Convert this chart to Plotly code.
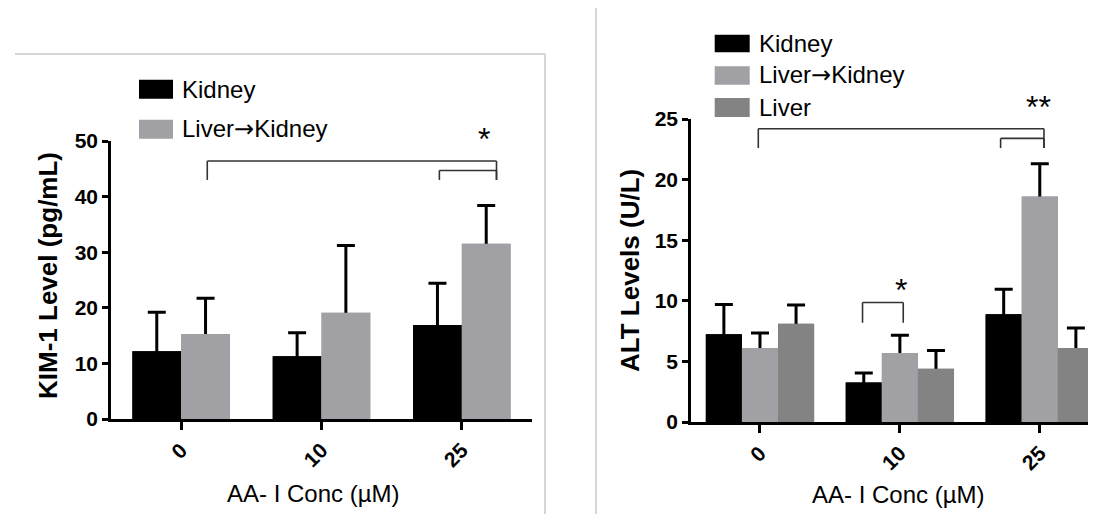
import plotly.graph_objects as go

W, H = 1096, 514
FONT = "Liberation Sans, Arial, Helvetica, sans-serif"

# ---------------- data ----------------
conc = ["0", "10", "25"]

kim_kidney = [12.2, 11.3, 16.9]
kim_kidney_sd = [7.0, 4.2, 7.5]
kim_liver_kidney = [15.3, 19.1, 31.5]
kim_liver_kidney_sd = [6.4, 12.1, 6.9]

alt_kidney = [7.25, 3.25, 8.9]
alt_kidney_sd = [2.45, 0.8, 2.05]
alt_liver_kidney = [6.1, 5.7, 18.6]
alt_liver_kidney_sd = [1.25, 1.45, 2.7]
alt_liver = [8.1, 4.4, 6.1]
alt_liver_sd = [1.55, 1.5, 1.65]

ARROW = '<span style="font-family:DejaVu Sans">\u2192</span>'
names = ["Kidney", "Liver" + ARROW + "Kidney", "Liver"]
colors = ["#000000", "#a0a0a5", "#838383"]

# significance brackets: (x0, x1, y_top, y_leg) in data units, axis suffix
brackets = [
    (0.186, 2.247, 46.4, 43.0, ""),
    (1.84, 2.247, 44.7, 43.0, ""),
    (-0.012, 2.03, 24.2, 22.6, "2"),
    (1.72, 2.03, 23.4, 22.6, "2"),
    (0.733, 1.024, 9.86, 8.19, "2"),
]


def px(x):
    return x / W


def py(y):
    return 1 - y / H


fig = go.Figure()


def add_series(vals, sds, color, xa, ya, offset, width):
    # bar with upward error bar; stem hidden by an identical bar drawn on top
    fig.add_trace(go.Bar(
        x=conc, y=vals, xaxis=xa, yaxis=ya, offset=offset, width=width,
        marker=dict(color=color, line=dict(width=0)), showlegend=False,
        error_y=dict(type="data", symmetric=False, array=sds, arrayminus=vals,
                     color="#000000", thickness=3, width=9),
    ))
    fig.add_trace(go.Bar(
        x=conc, y=vals, xaxis=xa, yaxis=ya, offset=offset, width=width,
        marker=dict(color=color, line=dict(width=0)), showlegend=False,
    ))


bw1 = 0.3475
add_series(kim_kidney, kim_kidney_sd, colors[0], "x", "y", -bw1, bw1)
add_series(kim_liver_kidney, kim_liver_kidney_sd, colors[1], "x", "y", 0.0, bw1)

bw2 = 0.258
add_series(alt_kidney, alt_kidney_sd, colors[0], "x2", "y2", -1.5 * bw2, bw2)
add_series(alt_liver_kidney, alt_liver_kidney_sd, colors[1], "x2", "y2", -0.5 * bw2, bw2)
add_series(alt_liver, alt_liver_sd, colors[2], "x2", "y2", 0.5 * bw2, bw2)

tickfont = dict(family=FONT, size=21, color="#000000", weight="bold")
axis_common = dict(showline=True, linecolor="#000000", linewidth=2.5,
                   ticks="outside", tickwidth=2.5, tickcolor="#000000",
                   showgrid=False, zeroline=False, automargin=False,
                   tickfont=tickfont, fixedrange=True)

fig.update_layout(
    template="none",
    width=W, height=H, autosize=False,
    margin=dict(l=0, r=0, t=0, b=0),
    paper_bgcolor="#ffffff", plot_bgcolor="rgba(0,0,0,0)",
    barmode="overlay",
    showlegend=False,
    xaxis=dict(domain=[px(103), px(524)], anchor="y", type="category",
               range=[-0.5, 2.5], tickangle=-45, ticklen=8, **axis_common),
    yaxis=dict(domain=[py(411), py(133)], anchor="x", range=[0, 50],
               dtick=10, tick0=0, ticklen=6, **axis_common),
    xaxis2=dict(domain=[px(683), 1.0], anchor="y2", type="category",
                range=[-0.493, 2.459], tickangle=-45, ticklen=8, **axis_common),
    yaxis2=dict(domain=[py(414), py(111)], anchor="x2", range=[0, 25],
                dtick=5, tick0=0, ticklen=6, **axis_common),
)

shapes = []
# panel frames
frame = dict(color="#c8c8c8", width=1.5)
shapes.append(dict(type="line", xref="paper", yref="paper", x0=px(7), x1=px(537), y0=py(46), y1=py(46), line=frame))
shapes.append(dict(type="line", xref="paper", yref="paper", x0=px(537), x1=px(537), y0=py(46), y1=0, line=frame))
shapes.append(dict(type="line", xref="paper", yref="paper", x0=px(588), x1=px(588), y0=1, y1=0, line=frame))

# brackets
bl = dict(color="#333333", width=1.6)
for x0, x1, yt, yl, s in brackets:
    xr, yr = "x" + s, "y" + s
    shapes.append(dict(type="line", xref=xr, yref=yr, x0=x0, x1=x1, y0=yt, y1=yt, line=bl))
    shapes.append(dict(type="line", xref=xr, yref=yr, x0=x0, x1=x0, y0=yt, y1=yl, line=bl))
    shapes.append(dict(type="line", xref=xr, yref=yr, x0=x1, x1=x1, y0=yt, y1=yl, line=bl))

# custom legends
leg_font = dict(family=FONT, size=24, color="#000000")
annotations = []
left_leg = [(71.7, 90.7), (111.7, 130.7)]
for i, (t, b) in enumerate(left_leg):
    shapes.append(dict(type="rect", xref="paper", yref="paper", x0=px(131), x1=px(165),
                       y0=py(b), y1=py(t), fillcolor=colors[i], line=dict(width=0)))
    annotations.append(dict(xref="paper", yref="paper", x=px(172), y=py((t + b) / 2),
                            text=names[i], showarrow=False, xanchor="left",
                            yanchor="middle", font=leg_font))
right_leg = [(26.7, 44.3), (58.3, 76.7), (90.0, 109.0)]
for i, (t, b) in enumerate(right_leg):
    shapes.append(dict(type="rect", xref="paper", yref="paper", x0=px(706.7), x1=px(741.7),
                       y0=py(b), y1=py(t), fillcolor=colors[i], line=dict(width=0)))
    annotations.append(dict(xref="paper", yref="paper", x=px(749), y=py((t + b) / 2),
                            text=names[i], showarrow=False, xanchor="left",
                            yanchor="middle", font=leg_font))

# significance stars
star_font = dict(family=FONT, size=32, color="#000000")
for xs, ys, txt in [(476, 131, "*"), (1030, 99, "**"), (893, 282, "*")]:
    annotations.append(dict(xref="paper", yref="paper", x=px(xs), y=py(ys), text=txt,
                            showarrow=False, xanchor="center", yanchor="middle", font=star_font))

# axis titles
ytitle_font = dict(family=FONT, size=26, color="#000000", weight="bold")
xtitle_font = dict(family=FONT, size=24, color="#000000")
annotations.append(dict(xref="paper", yref="paper", x=px(40), y=py(268), text="KIM-1 Level (pg/mL)",
                        textangle=-90, showarrow=False, xanchor="center", yanchor="middle", font=ytitle_font))
annotations.append(dict(xref="paper", yref="paper", x=px(622), y=py(263), text="ALT Levels (U/L)",
                        textangle=-90, showarrow=False, xanchor="center", yanchor="middle", font=ytitle_font))
annotations.append(dict(xref="paper", yref="paper", x=px(305), y=py(485), text="AA- I Conc (\u00b5M)",
                        showarrow=False, xanchor="center", yanchor="middle", font=xtitle_font))
annotations.append(dict(xref="paper", yref="paper", x=px(890), y=py(486), text="AA- I Conc (\u00b5M)",
                        showarrow=False, xanchor="center", yanchor="middle", font=xtitle_font))

fig.update_layout(shapes=shapes, annotations=annotations)

fig.write_html("out.html")
